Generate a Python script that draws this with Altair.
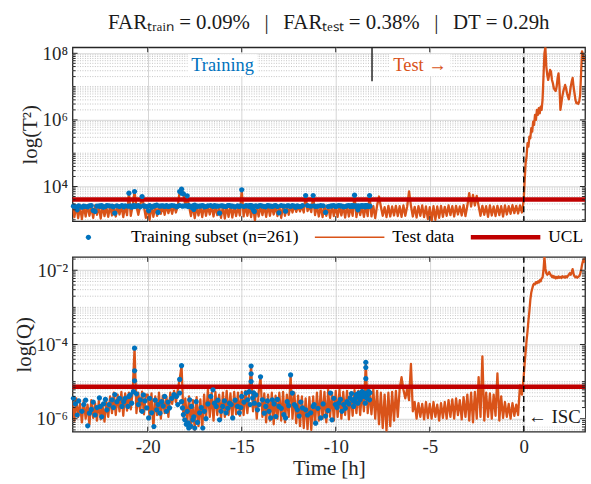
import numpy as np
import pandas as pd
import altair as alt

# ------------------------------------------------------------------ data
# Test data, log10(T^2), t = -24.0 ... 0.0 h every 0.1 h
T2_PRE = [
    3.40, 3.08, 3.42, 3.05, 3.38, 3.02, 3.41, 3.10, 3.44, 3.12,
    3.39, 3.06, 3.43, 3.15, 3.40, 3.04, 3.42, 3.11, 3.38, 3.09,
    3.42, 3.13, 3.44, 3.10, 3.40, 3.16, 3.43, 3.08, 3.41, 3.14,
    3.80, 3.12, 3.42, 3.85, 3.40, 3.15, 3.43, 3.70, 3.40, 3.06,
    3.41, 3.00, 3.43, 3.09, 3.39, 3.12, 3.44, 3.18, 3.42, 3.15,
    3.43, 3.20, 3.40, 3.18, 3.44, 3.22, 3.41, 3.85, 3.92, 3.78,
    3.42, 3.72, 3.40, 3.11, 3.43, 3.05, 3.39, 3.13, 3.41, 3.08,
    3.44, 3.12, 3.40, 3.16, 3.43, 3.10, 3.41, 3.14, 3.38, 3.06,
    3.42, 3.04, 3.40, 3.09, 3.44, 3.07, 3.41, 3.11, 3.39, 3.13,
    3.90, 3.10, 3.43, 3.12, 3.41, 3.08, 3.42, 2.98, 3.40, 3.10,
    3.43, 3.14, 3.41, 3.09, 3.44, 3.12, 3.40, 3.16, 3.42, 3.11,
    3.41, 3.06, 3.43, 3.12, 3.40, 3.15, 3.42, 3.22, 3.44, 3.24,
    3.42, 3.25, 3.43, 3.22, 3.73, 3.26, 3.41, 3.23, 3.73, 3.14,
    3.42, 3.10, 3.40, 3.08, 3.43, 3.12, 3.41, 3.06, 3.44, 3.11,
    3.40, 3.09, 3.42, 3.13, 3.41, 3.07, 3.43, 3.10, 3.39, 3.12,
    3.74, 3.08, 3.42, 3.14, 3.40, 3.09, 3.43, 3.11, 3.73, 3.10,
    3.41, 3.05, 3.43, 3.70, 3.40, 3.12, 3.38, 3.08, 3.42, 3.10,
    3.40, 3.13, 3.42, 3.11, 3.41, 3.09, 3.43, 3.12, 3.40, 3.85,
    3.42, 3.10, 3.39, 3.07, 3.41, 3.12, 3.43, 3.08, 3.40, 3.02,
    3.38, 2.95, 3.41, 3.00, 3.40, 3.06, 3.42, 3.09, 3.39, 3.12,
    3.43, 3.14, 3.41, 3.10, 3.42, 3.16, 3.40, 3.13, 3.44, 3.11,
    3.42, 3.80, 3.40, 3.75, 3.43, 3.72, 3.41, 3.12, 3.42, 3.15,
    3.41, 3.09, 3.43, 3.13, 3.40, 3.11, 3.42, 3.14, 3.41, 3.10,
    3.43, 3.16, 3.41, 3.18, 3.44, 3.20, 3.42, 3.19, 3.43, 3.22,
    3.60]
# Test data, log10(T^2), t = 0.05 ... 3.25 h every 0.05 h
T2_POST = [
    4.20, 4.70, 4.90, 5.30, 5.20, 5.50, 5.45, 5.75, 5.65, 5.95,
    5.85, 6.15, 6.00, 6.30, 6.15, 6.35, 6.20, 6.40, 6.30, 6.60,
    7.30, 8.00, 8.18, 7.60, 7.35, 7.20, 7.35, 7.50, 7.45, 7.20,
    7.10, 6.95, 6.90, 6.87, 7.00, 7.25, 7.40, 7.00, 6.30, 6.50,
    6.70, 6.85, 6.95, 7.05, 6.95, 6.80, 6.70, 6.62, 6.80, 7.00,
    7.15, 7.26, 7.00, 6.80, 6.60, 6.50, 6.52, 6.48, 6.55, 6.75,
    7.40, 8.06, 7.95, 7.85, 7.76]
# Test data, log10(Q), t = -24.0 ... 0.0 h every 0.1 h
Q_PRE = [
    -5.55, -6.05, -5.45, -5.95, -5.60, -6.10, -5.50, -6.00, -5.62, -6.15,
    -5.50, -5.98, -5.58, -6.05, -5.52, -6.02, -5.65, -6.08, -5.55, -5.95,
    -5.40, -5.85, -5.30, -5.90, -5.35, -5.80, -5.28, -5.92, -5.32, -5.78,
    -5.30, -5.75, -5.25, -4.10, -5.85, -5.30, -5.80, -5.27, -5.88, -5.35,
    -5.35, -5.95, -5.32, -6.25, -5.40, -5.90, -5.30, -6.00, -5.38, -5.85,
    -5.42, -5.95, -5.30, -5.60, -5.25, -5.55, -5.22, -4.94, -4.57, -5.95,
    -5.45, -6.10, -5.40, -6.25, -5.50, -6.30, -5.42, -6.20, -5.48, -6.28,
    -5.35, -6.00, -5.22, -5.95, -5.30, -6.05, -5.28, -5.90, -5.35, -6.00,
    -5.30, -5.95, -5.25, -5.90, -5.32, -6.00, -5.28, -5.88, -5.30, -5.92,
    -5.28, -5.90, -5.25, -5.85, -5.26, -4.58, -5.80, -5.30, -6.00, -5.30,
    -4.87, -5.95, -5.32, -6.10, -5.35, -6.05, -5.30, -6.15, -5.38, -6.00,
    -5.30, -6.05, -5.28, -6.10, -5.35, -5.95, -4.82, -6.00, -5.30, -6.12,
    -5.38, -6.20, -5.40, -6.25, -5.45, -6.28, -5.42, -6.30, -5.40, -6.15,
    -5.30, -6.05, -5.25, -6.00, -5.28, -6.10, -5.22, -5.95, -5.30, -6.05,
    -5.25, -5.95, -5.22, -6.00, -5.28, -5.90, -5.25, -6.02, -5.30, -5.92,
    -5.23, -5.85, -5.25, -5.90, -5.22, -5.80, -4.48, -5.85, -5.24, -5.88,
    -5.20, -6.00, -5.25, -6.15, -5.30, -6.25, -5.35, -6.32, -5.30, -6.20,
    -5.28, -6.05, -5.25, -5.95, -5.20, -4.88, -5.22, -5.45, -5.20, -5.50,
    -4.52, -5.80, -5.55, -6.00, -5.58, -5.95, -5.60, -6.02, -5.55, -5.98,
    -5.60, -6.00, -5.55, -5.95, -5.62, -6.05, -5.58, -5.98, -5.55, -6.00,
    -5.50, -5.95, -5.48, -6.00, -5.45, -5.90, -5.50, -6.02, -5.42, -5.95,
    -5.35, -6.05, -5.30, -6.10, -5.28, -6.00, -4.88, -5.95, -4.32, -6.05,
    -5.30, -5.95, -5.32, -6.00, -5.35, -5.92, -4.78, -6.05, -5.40, -5.98,
    -5.55, -5.95, -5.60, -6.00, -5.58, -5.92, -5.62, -5.90, -5.10, -5.35,
    -4.85]
# Test data, log10(Q), t = 0.05 ... 3.25 h every 0.05 h
Q_POST = [
    -4.50, -4.20, -3.90, -3.65, -3.35, -3.10, -2.80, -2.60, -2.50, -2.40,
    -2.36, -2.38, -2.32, -2.35, -2.30, -2.33, -2.27, -2.30, -2.22, -2.20,
    -2.00, -1.64, -1.95, -2.08, -2.12, -2.10, -2.05, -2.10, -2.14, -2.18,
    -2.15, -2.20, -2.17, -2.22, -2.18, -2.21, -2.17, -2.20, -2.18, -2.21,
    -2.16, -2.19, -2.17, -2.20, -2.16, -2.19, -2.15, -2.12, -2.08, -2.12,
    -2.05, -1.97, -2.10, -2.16, -2.19, -2.17, -2.20, -2.18, -2.16, -2.10,
    -2.00, -1.85, -1.75, -1.70, -1.80]

# Training subset: time [h], log10(Q), log10(T^2)
TRAIN_T = [
    -23.85, -23.67, -23.50, -23.40, -23.19, -23.00, -22.80, -22.57, -22.52, -22.35,
    -22.17, -21.90, -21.75, -21.64, -21.50, -21.37, -21.28, -21.00, -21.05, -20.93,
    -20.85, -20.76, -20.70, -20.70, -20.70, -20.60, -20.40, -20.30, -20.23, -20.05,
    -19.90, -19.79, -19.67, -19.52, -19.45, -19.26, -19.10, -19.00, -18.84, -18.60,
    -18.47, -18.30, -18.20, -18.30, -18.20, -18.15, -18.10, -18.03, -17.90, -17.85,
    -17.82, -17.77, -17.68, -17.60, -17.50, -17.42, -17.24, -17.07, -16.99, -16.80,
    -16.53, -16.45, -16.36, -16.18, -16.01, -15.83, -15.65, -15.48, -15.35, -15.22,
    -15.13, -15.00, -14.77, -14.68, -14.60, -14.50, -14.50, -14.50, -14.42, -14.33,
    -14.25, -14.16, -14.00, -13.90, -13.72, -13.55, -13.37, -13.19, -13.02, -12.76,
    -12.58, -12.40, -12.31, -12.20, -12.13, -12.04, -11.95, -11.77, -11.60, -11.20,
    -11.33, -11.15, -11.07, -10.80, -10.54, -10.28, -10.20, -10.02, -9.84, -9.67,
    -9.58, -9.40, -9.23, -9.05, -9.00, -8.87, -8.78, -8.70, -8.60, -8.52,
    -8.45, -8.40, -8.40, -8.40, -8.30, -8.25, -8.20, -8.43, -8.65, -8.90,
    -9.10, -9.30,
    -23.95, -23.75, -23.30, -23.10, -22.90, -22.70, -22.45, -22.25, -22.05, -21.82,
    -21.20, -20.50, -20.15, -19.95, -19.60, -19.35, -19.18, -18.92, -18.72, -18.40,
    -17.95, -17.72, -17.55, -17.35, -17.15, -16.90, -16.65, -16.27, -16.10, -15.92,
    -15.74, -15.56, -15.05, -14.88, -14.55, -14.37, -14.08, -13.80, -13.63, -13.46,
    -13.28, -13.10, -12.90, -12.67, -12.50, -11.86, -11.50, -10.95, -10.67, -10.41,
    -10.10, -9.93, -9.75, -9.49, -9.16, -8.95, -8.82, -8.56, -8.35, -8.18]
TRAIN_Q = [
    -5.60, -5.52, -5.80, -5.62, -6.19, -5.75, -5.90, -5.44, -5.67, -5.60,
    -5.76, -5.49, -5.35, -5.54, -5.45, -5.67, -5.54, -5.40, -5.67, -5.36,
    -5.58, -5.27, -4.10, -4.71, -4.98, -5.33, -5.49, -5.80, -5.36, -5.71,
    -5.45, -5.84, -6.21, -5.76, -5.62, -5.54, -5.40, -5.80, -5.71, -5.35,
    -5.40, -4.94, -4.57, -5.31, -5.54, -5.71, -5.89, -6.03, -5.80, -6.11,
    -6.25, -5.49, -5.67, -6.03, -6.25, -5.54, -5.84, -6.25, -5.80, -5.60,
    -5.22, -5.58, -5.67, -6.03, -5.67, -5.84, -5.58, -5.98, -5.50, -5.67,
    -5.84, -5.40, -5.31, -5.49, -5.27, -4.58, -4.79, -5.00, -5.44, -5.58,
    -5.36, -5.76, -4.87, -5.49, -5.67, -5.80, -5.49, -5.94, -5.67, -5.89,
    -5.54, -4.82, -5.31, -5.62, -5.67, -5.76, -5.93, -5.71, -5.76, -5.67,
    -5.84, -5.62, -6.12, -5.98, -5.93, -5.31, -6.03, -5.62, -5.58, -5.80,
    -5.62, -5.54, -5.44, -5.67, -5.54, -5.40, -5.31, -5.49, -5.27, -5.40,
    -5.31, -4.48, -4.62, -4.92, -5.36, -5.27, -5.49, -5.58, -5.40, -5.35,
    -5.50, -5.60,
    -5.45, -5.90, -5.50, -5.85, -5.55, -5.70, -5.95, -5.48, -5.62, -5.70,
    -5.45, -5.62, -5.52, -5.98, -5.50, -5.85, -5.66, -5.55, -5.45, -5.62,
    -6.15, -6.20, -5.95, -6.10, -5.70, -6.00, -5.40, -5.50, -5.80, -5.52,
    -5.72, -5.62, -5.70, -5.55, -5.62, -5.30, -5.62, -5.85, -5.52, -5.98,
    -5.60, -5.48, -5.72, -5.98, -5.65, -5.55, -5.90, -5.72, -5.60, -5.78,
    -5.45, -5.70, -5.48, -5.72, -5.32, -5.45, -5.58, -5.35, -5.45, -5.30]
TRAIN_T2 = [
    3.40, 3.42, 3.38, 3.41, 3.39, 3.43, 3.25, 3.42, 3.40, 3.38,
    3.43, 3.41, 3.20, 3.42, 3.40, 3.43, 3.39, 3.80, 3.41, 3.42,
    3.38, 3.43, 3.85, 3.40, 3.42, 3.41, 3.39, 3.70, 3.42, 3.40,
    3.43, 3.38, 3.41, 3.44, 3.22, 3.42, 3.40, 3.43, 3.41, 3.42,
    3.39, 3.85, 3.92, 3.43, 3.80, 3.41, 3.78, 3.42, 3.72, 3.40,
    3.43, 3.41, 3.38, 3.42, 3.44, 3.40, 3.41, 3.43, 3.39, 3.42,
    3.40, 3.43, 3.41, 3.20, 3.42, 3.40, 3.43, 3.41, 3.39, 3.42,
    3.40, 3.90, 3.43, 3.41, 3.42, 3.40, 3.43, 3.38, 3.41, 3.25,
    3.42, 3.40, 3.43, 3.41, 3.39, 3.42, 3.40, 3.43, 3.21, 3.41,
    3.42, 3.40, 3.43, 3.41, 3.38, 3.42, 3.40, 3.43, 3.73, 3.73,
    3.41, 3.42, 3.40, 3.43, 3.22, 3.41, 3.42, 3.40, 3.43, 3.41,
    3.39, 3.42, 3.40, 3.43, 3.74, 3.41, 3.42, 3.40, 3.43, 3.41,
    3.42, 3.40, 3.43, 3.41, 3.42, 3.40, 3.73, 3.39, 3.42, 3.41,
    3.40, 3.43,
    3.41, 3.30, 3.40, 3.42, 3.28, 3.41, 3.43, 3.40, 3.42, 3.39,
    3.42, 3.43, 3.41, 3.27, 3.43, 3.41, 3.42, 3.40, 3.43, 3.41,
    3.42, 3.40, 3.31, 3.41, 3.42, 3.40, 3.43, 3.41, 3.42, 3.40,
    3.43, 3.41, 3.42, 3.40, 3.43, 3.29, 3.42, 3.40, 3.43, 3.41,
    3.42, 3.40, 3.43, 3.26, 3.42, 3.40, 3.43, 3.41, 3.42, 3.40,
    3.43, 3.41, 3.42, 3.40, 3.43, 3.41, 3.30, 3.40, 3.43, 3.41]

UCL_T2 = 3.61      # log10 of the T^2 control limit
UCL_Q = -5.14      # log10 of the Q control limit
SPLIT_T = -8.07    # end of the training period [h]
SERIES = ["Training subset (n=261)", "Test data", "UCL"]
X_TICKS = [-20, -15, -10, -5, 0]
SEP = "\u2002\u2009|\u2002\u2009"
TITLE = ("FAR\u209c\u1d63\u2090\u1d62\u2099 = 0.09%" + SEP +
         "FAR\u209c\u2091\u209b\u209c = 0.38%" + SEP + "DT = 0.29h")

# ------------------------------------------------------------------ style
BLUE, ORANGE, RED = "#0072BD", "#D95319", "#C00000"
FONT = "Liberation Serif"
GRID = "#d6d6d6"
MINOR = "#c4c4c4"
FRAME = "#262626"
DOT = "M-0.075,0A0.075,0.075,0,1,0,0.075,0A0.075,0.075,0,1,0,-0.075,0Z"
THIN = "M-1,-0.02H1V0.02H-1Z"
THICK = "M-1,-0.065H1V0.065H-1Z"

X_LO, X_HI = -24.0, 3.26
T_LO, T_HI = 2.96, 8.18
Q_LO, Q_HI = -6.35, -1.64

t_pre = np.round(-24.0 + 0.1 * np.arange(len(T2_PRE)), 2)
t_post = np.round(0.05 * np.arange(1, len(T2_POST) + 1), 2)
test = pd.DataFrame({"t": np.concatenate([t_pre, t_post]),
                     "T2": T2_PRE + T2_POST, "Q": Q_PRE + Q_POST})
train = pd.DataFrame({"t": TRAIN_T, "T2": TRAIN_T2, "Q": TRAIN_Q,
                      "series": SERIES[0]})
one = pd.DataFrame({"k": [0]})

XS = alt.Scale(domain=[X_LO, X_HI], nice=False, zero=False)
YT = alt.Scale(domain=[T_LO, T_HI], nice=False, zero=False)
YQ = alt.Scale(domain=[Q_LO, Q_HI], nice=False, zero=False)


def log_ticks(lo, hi, majors):
    """Positions of log-decade grid/tick lines (in log10 units)."""
    rows = []
    for d in range(int(np.floor(lo)) - 1, int(np.ceil(hi)) + 1):
        for k in range(1, 10):
            v = d + np.log10(k)
            if lo < v < hi:
                rows.append((v, any(abs(v - m) < 1e-9 for m in majors)))
    return pd.DataFrame(rows, columns=["g", "major"])


def y_tick_frame(lo, hi, majors):
    df = log_ticks(lo, hi, majors)
    ln = np.where(df["major"], 0.27, 0.16)        # tick length in hours
    left = df.assign(x0=X_LO, x1=X_LO + ln)
    right = df.assign(x0=X_HI - ln, x1=X_HI)
    return pd.concat([left, right], ignore_index=True)


def x_tick_frame(lo, hi, px_per_unit):
    ln = 5.0 / px_per_unit
    bot = pd.DataFrame({"t": X_TICKS, "y0": lo, "y1": lo + ln})
    top = pd.DataFrame({"t": X_TICKS, "y0": hi - ln, "y1": hi})
    return pd.concat([bot, top], ignore_index=True)


ax_common = dict(ticks=False, domain=False, grid=True, gridColor=GRID,
                 gridWidth=1, labelFont=FONT, titleFont=FONT,
                 labelFontSize=19, titleFontSize=21, titleFontWeight="normal",
                 labelColor="#262626", titleColor="#262626")

TX = alt.Axis(values=X_TICKS, labels=False, title=None, **ax_common)
BX = alt.Axis(values=X_TICKS, labelExpr="datum.value", title="Time [h]",
              labelPadding=6, titleY=43, titleBaseline="alphabetic", **ax_common)
TY = alt.Axis(values=[4, 6, 8], title="log(T\u00b2)",
              labelExpr="'10' + (datum.value == 4 ? '\u2074' : datum.value == 6 ? '\u2076' : '\u2078')",
              labelPadding=5, titlePadding=2, **ax_common)
BY = alt.Axis(values=[-6, -4, -2], title="log(Q)",
              labelExpr="'10' + (datum.value == -6 ? '\u207b\u2076' : datum.value == -4 ? '\u207b\u2074' : '\u207b\u00b2')",
              labelPadding=5, titlePadding=2, **ax_common)

LEG = alt.Legend(orient="none", legendX=-19, legendY=156, direction="horizontal",
                 title=None, labelFont=FONT, labelFontSize=17.5, labelColor="#000",
                 labelLimit=400, labelOffset=8, columnPadding=16, symbolSize=4900,
                 symbolStrokeWidth=0, padding=0)

W = 516
LINE_W = 2.3


def panel_frame_layers(ylo, yhi, yscale, xaxis, yaxis, majors, px_per_unit):
    lt = log_ticks(ylo, yhi, majors)
    minor = alt.Chart(lt[~lt["major"]]).mark_rule(
        color=MINOR, strokeDash=[1, 1.5], strokeWidth=1
    ).encode(y=alt.Y("g:Q", scale=yscale, axis=yaxis))
    yt = alt.Chart(y_tick_frame(ylo, yhi, majors)).mark_rule(
        color=FRAME, strokeWidth=1
    ).encode(x=alt.X("x0:Q", scale=XS, axis=xaxis), x2="x1",
             y=alt.Y("g:Q", scale=yscale, axis=yaxis))
    xt = alt.Chart(x_tick_frame(ylo, yhi, px_per_unit)).mark_rule(
        color=FRAME, strokeWidth=1
    ).encode(x=alt.X("t:Q", scale=XS, axis=xaxis),
             y=alt.Y("y0:Q", scale=yscale, axis=yaxis), y2="y1")
    return minor, yt, xt


# ------------------------------------------------------------------ top panel
top_minor, top_yt, top_xt = panel_frame_layers(T_LO, T_HI, YT, TX, TY, [4, 6, 8], 33.5)

top_boxes = alt.Chart(pd.DataFrame({
    "x0": [-17.87, -7.15], "x1": [-14.17, -3.89],
    "y0": [7.31, 7.31], "y1": [7.97, 7.97]})).mark_rect(fill="white").encode(
    x=alt.X("x0:Q", scale=XS, axis=TX), x2="x1",
    y=alt.Y("y0:Q", scale=YT, axis=TY), y2="y1")

top_line = alt.Chart(test).mark_line(color=ORANGE, strokeWidth=LINE_W, strokeJoin="round",
                                     clip=True).encode(
    x=alt.X("t:Q", scale=XS, axis=TX),
    y=alt.Y("T2:Q", scale=YT, axis=TY))

split = alt.Chart(one).mark_rule(color=FRAME, strokeWidth=1.5).encode(
    x=alt.XDatum(SPLIT_T, scale=XS, axis=TX),
    y=alt.YDatum(T_HI, scale=YT, axis=TY), y2=alt.Y2Datum(7.16))

top_ucl = alt.Chart(one).mark_rule(color=RED, strokeWidth=4.5).encode(
    y=alt.YDatum(UCL_T2, scale=YT, axis=TY))

top_zero = alt.Chart(one).mark_rule(color="#000", strokeDash=[6, 4], strokeWidth=1.4).encode(
    x=alt.XDatum(0, scale=XS, axis=TX))

top_pts = alt.Chart(train).mark_point(filled=True, size=4900, opacity=1, strokeWidth=0).encode(
    x=alt.X("t:Q", scale=XS, axis=TX),
    y=alt.Y("T2:Q", scale=YT, axis=TY),
    color=alt.Color("series:N", scale=alt.Scale(domain=SERIES, range=[BLUE, ORANGE, RED]),
                    legend=LEG, title=None),
    shape=alt.Shape("series:N", scale=alt.Scale(domain=SERIES, range=[DOT, THIN, THICK]),
                    legend=LEG, title=None))

txt_train = alt.Chart(one).mark_text(text="Training", font=FONT, fontSize=18.5,
                                     color=BLUE, baseline="middle").encode(
    x=alt.XDatum(-16.02, scale=XS, axis=TX), y=alt.YDatum(7.64, scale=YT, axis=TY))
txt_test = alt.Chart(one).mark_text(text="Test \u2192", font=FONT, fontSize=18.5,
                                    color=ORANGE, baseline="middle").encode(
    x=alt.XDatum(-5.52, scale=XS, axis=TX), y=alt.YDatum(7.64, scale=YT, axis=TY))

top = alt.layer(top_minor, top_boxes, top_line, split, top_ucl, top_zero, top_pts,
                top_yt, top_xt, txt_train, txt_test).properties(
    width=W, height=175,
    title=alt.Title(TITLE, font=FONT, fontSize=21, fontWeight="normal", color="#1a1a1a",
                    anchor="middle", frame="group", baseline="alphabetic", offset=-6))

# ------------------------------------------------------------------ bottom panel
bot_minor, bot_yt, bot_xt = panel_frame_layers(Q_LO, Q_HI, YQ, BX, BY, [-6, -4, -2], 37.3)

bot_box = alt.Chart(pd.DataFrame({"x0": [0.09], "x1": [3.26], "y0": [-6.21], "y1": [-5.68]})
                    ).mark_rect(fill="white").encode(
    x=alt.X("x0:Q", scale=XS, axis=BX), x2="x1",
    y=alt.Y("y0:Q", scale=YQ, axis=BY), y2="y1")

bot_line = alt.Chart(test).mark_line(color=ORANGE, strokeWidth=LINE_W, strokeJoin="round",
                                     clip=True).encode(
    x=alt.X("t:Q", scale=XS, axis=BX),
    y=alt.Y("Q:Q", scale=YQ, axis=BY))

bot_ucl = alt.Chart(one).mark_rule(color=RED, strokeWidth=4.5).encode(
    y=alt.YDatum(UCL_Q, scale=YQ, axis=BY))

bot_zero = alt.Chart(one).mark_rule(color="#000", strokeDash=[6, 4], strokeWidth=1.4).encode(
    x=alt.XDatum(0, scale=XS, axis=BX))

bot_pts = alt.Chart(train).mark_point(filled=True, size=4900, opacity=1, strokeWidth=0,
                                      shape=DOT, color=BLUE).encode(
    x=alt.X("t:Q", scale=XS, axis=BX),
    y=alt.Y("Q:Q", scale=YQ, axis=BY))

txt_isc = alt.Chart(one).mark_text(text="\u2190 ISC", font=FONT, fontSize=19,
                                   color="#1a1a1a", baseline="middle").encode(
    x=alt.XDatum(1.63, scale=XS, axis=BX), y=alt.YDatum(-5.95, scale=YQ, axis=BY))

bottom = alt.layer(bot_minor, bot_box, bot_line, bot_ucl, bot_zero, bot_pts,
                   bot_yt, bot_xt, txt_isc).properties(width=W, height=176)

chart = alt.vconcat(top, bottom, spacing=32).properties(
    padding={"left": 12, "top": 10, "right": 3, "bottom": 2}
).configure(font=FONT).configure_view(stroke=FRAME, strokeWidth=1.3)

chart.save("out.html", embed_options={"renderer": "svg", "actions": False})
